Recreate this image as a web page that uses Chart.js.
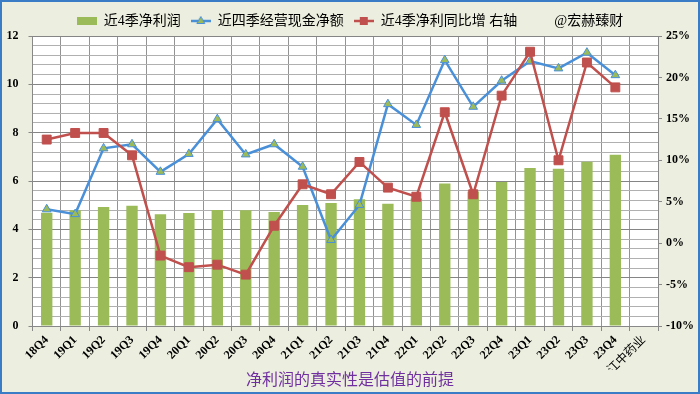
<!DOCTYPE html>
<html><head><meta charset="utf-8">
<script src="https://cdn.jsdelivr.net/npm/chart.js@4"></script>
<style>
html,body{margin:0;padding:0;background:#ECEFDF;}
#wrap{width:700px;height:394px;box-sizing:border-box;border:2px solid #3A7CC6;background:#ECEFDF;}
canvas{display:block;}
</style></head><body>
<div id="wrap"><canvas id="c" width="696" height="390"></canvas></div>
<script>
const categories = ['18Q4','19Q1','19Q2','19Q3','19Q4','20Q1','20Q2','20Q3','20Q4','21Q1','21Q2','21Q3','21Q4','22Q1','22Q2','22Q3','22Q4','23Q1','23Q2','23Q3','23Q4','江中药业'];
const netProfit = [4.69,4.79,4.92,4.98,4.62,4.68,4.80,4.79,4.72,5.01,5.09,5.25,5.06,5.28,5.90,5.57,5.96,6.54,6.51,6.80,7.09,null];
const cashFlow = [4.83,4.63,7.35,7.52,6.38,7.12,8.56,7.10,7.52,6.59,3.56,5.01,9.18,8.32,11.00,9.07,10.15,10.96,10.66,11.31,10.38,null];
const profitGrowth = [12.5,13.3,13.3,10.6,-1.5,-2.9,-2.6,-3.8,2.1,7.1,5.9,9.8,6.7,5.6,15.8,5.9,17.8,23.1,10.0,21.8,18.8,null];
const leftTicks = [0,2,4,6,8,10,12];
const rightTicks = [-10,-5,0,5,10,15,20,25];
const legendLabels = ['近4季净利润','近四季经营现金净额','近4季净利同比增 右轴','@宏赫臻财'];
const titleText = '净利润的真实性是估值的前提';

const GREEN = '#9BBB59', BLUE = '#4A90D9', RED = '#C0504D';
const MINOR_PER_MAJOR = 5;

function makeIcon(kind){
  const c = document.createElement('canvas');
  c.width = kind === 'blank' ? 30 : 20; c.height = 12;
  const g = c.getContext('2d');
  if (kind === 'bar'){ g.fillStyle = GREEN; g.fillRect(0,2,20,8); }
  if (kind === 'blue'){
    g.strokeStyle = BLUE; g.lineWidth = 2.5; g.beginPath(); g.moveTo(0,6); g.lineTo(20,6); g.stroke();
    g.fillStyle = GREEN; g.strokeStyle = BLUE; g.lineWidth = 1;
    g.beginPath(); g.moveTo(10,1.5); g.lineTo(14,8.5); g.lineTo(6,8.5); g.closePath(); g.fill(); g.stroke();
  }
  if (kind === 'red'){
    g.strokeStyle = RED; g.lineWidth = 2.5; g.beginPath(); g.moveTo(0,6); g.lineTo(20,6); g.stroke();
    g.fillStyle = RED; g.fillRect(6,2,8,8);
  }
  return c;
}
const icons = [makeIcon('bar'), makeIcon('blue'), makeIcon('red'), makeIcon('blank')];

function buildLeftTicks(){
  const out = [];
  for (let i = 0; i < leftTicks.length; i++){
    out.push({value: leftTicks[i], major: true});
    if (i < leftTicks.length - 1){
      const a = leftTicks[i], b = leftTicks[i+1];
      for (let k = 1; k < MINOR_PER_MAJOR; k++) out.push({value: a + (b - a) * k / MINOR_PER_MAJOR, major: false});
    }
  }
  return out;
}

const plotBg = {
  id: 'plotBg',
  beforeDraw(chart){
    const {ctx, chartArea: a} = chart;
    ctx.save(); ctx.fillStyle = '#FFFFFF';
    ctx.fillRect(a.left, a.top, a.right - a.left, a.bottom - a.top);
    ctx.restore();
  }
};

new Chart(document.getElementById('c'), {
  plugins: [plotBg],
  data: {
    labels: categories,
    datasets: [
      { type:'line', label: legendLabels[2], data: profitGrowth, yAxisID:'y1', order:1,
        borderColor: RED, borderWidth: 2.5, tension: 0, pointStyle:'rect', pointRadius: 6.3,
        pointBackgroundColor: RED, pointBorderColor: RED, pointBorderWidth: 1 },
      { type:'line', label: legendLabels[1], data: cashFlow, yAxisID:'y', order:2,
        borderColor: BLUE, borderWidth: 2.5, tension: 0, pointStyle:'triangle', pointRadius: 5,
        pointBackgroundColor: GREEN, pointBorderColor: BLUE, pointBorderWidth: 1 },
      { type:'bar', label: legendLabels[0], data: netProfit, yAxisID:'y', order:3,
        backgroundColor: GREEN, barPercentage: 0.4, categoryPercentage: 1.0 }
    ]
  },
  options: {
    responsive: false, animation: false, devicePixelRatio: 1,
    layout: { padding: { top: 2, left: 0, right: 0, bottom: 0 } },
    plugins: {
      tooltip: { enabled: false },
      legend: {
        position: 'top', maxHeight: 32,
        labels: {
          usePointStyle: true, pointStyleWidth: 20, padding: 10,
          color: '#000',
          font: { family: "'Liberation Serif','Noto Sans CJK SC'", size: 14 },
          generateLabels: () => legendLabels.map((t,i) => ({
            text: t, pointStyle: icons[i], fillStyle: 'transparent', strokeStyle: 'transparent',
            lineWidth: 0, hidden: false, datasetIndex: i
          }))
        }
      },
      title: {
        display: true, text: titleText, position: 'bottom', color: '#7030A0',
        font: { family: "'Noto Sans CJK SC'", size: 16, weight: 'normal' },
        padding: { top: 0, bottom: 3 }
      }
    },
    scales: {
      x: {
        offset: true,
        grid: { color: '#939393', offset: true, tickLength: 5, tickColor: '#888' },
        border: { color: '#888' },
        ticks: { minRotation: 45, maxRotation: 45, autoSkip: false, color: '#000', padding: 2,
          font: c => ({ family: "'Liberation Serif','Noto Sans CJK SC'", size: 12,
            weight: (c.index === categories.length - 1) ? 'normal' : 'bold' }) },
        afterFit: s => { s.height = 43.8; }
      },
      y: {
        position: 'left', min: 0, max: 12,
        afterBuildTicks: s => { s.ticks = buildLeftTicks(); },
        ticks: { color: '#000', padding: 10, autoSkip: false,
          font: { family: "'Liberation Serif'", size: 12, weight: 'bold' },
          callback: function(v, i, ticks){ return ticks[i].major ? String(v) : ''; } },
        grid: { color: c => (c.tick && c.tick.major) ? '#858585' : '#B0B0B0',
          tickColor: c => (c.tick && c.tick.major) ? '#888' : 'rgba(0,0,0,0)', tickLength: 4 },
        border: { color: '#888' },
        afterFit: s => { s.width = 30.5; }
      },
      y1: {
        position: 'right', min: -10, max: 25,
        afterBuildTicks: s => { s.ticks = rightTicks.map(v => ({value: v})); },
        ticks: { color: '#000', padding: 4,
          font: { family: "'Liberation Serif'", size: 12, weight: 'bold' },
          callback: v => v + '%' },
        grid: { drawOnChartArea: false, tickLength: 4, color: '#888' },
        border: { color: '#888' },
        afterFit: s => { s.width = 40; }
      }
    }
  }
});
</script>
</body></html>
